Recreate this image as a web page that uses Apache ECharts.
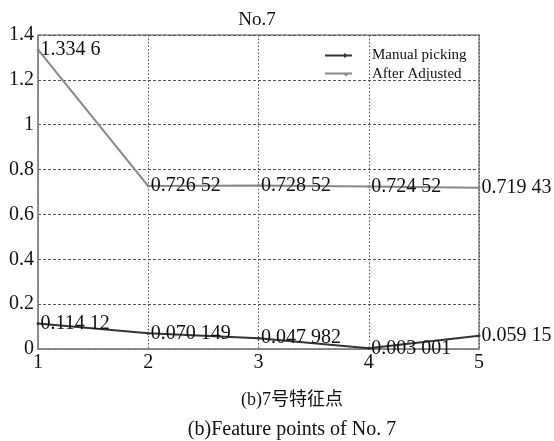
<!DOCTYPE html>
<html><head><meta charset="utf-8">
<script src="https://cdn.jsdelivr.net/npm/echarts@6/dist/echarts.min.js"></script>
<style>html,body{margin:0;padding:0;background:#fff}#c{width:554px;height:441px}</style>
</head><body><div id="c"></div>
<script>
var points = [1, 2, 3, 4, 5];
var manualPicking = [0.11412, 0.070149, 0.047982, 0.003001, 0.05915];
var afterAdjusted = [1.3346, 0.72652, 0.72852, 0.72452, 0.71943];
var yTicks = [0, 0.2, 0.4, 0.6, 0.8, 1, 1.2, 1.4];
var titleText = 'No.7';
var caption1 = '(b)7号特征点';
var caption2 = '(b)Feature points of No. 7';

function grp(v) {
  var s = String(v);
  var p = s.split('.');
  if (p.length < 2) return s;
  var d = p[1].replace(/(\d{3})(?=\d)/g, '$1 ');
  return p[0] + '.' + d;
}
function pairs(arr) { return points.map(function (x, i) { return [x, arr[i]]; }); }

var serif = '"Liberation Serif", "Times New Roman", serif';
var chart = echarts.init(document.getElementById('c'));
chart.setOption({
  animation: false,
  backgroundColor: '#fff',
  textStyle: { fontFamily: serif, color: '#111' },
  title: { text: titleText, left: 252, top: 6, textAlign: 'center',
    textStyle: { fontFamily: serif, fontSize: 19, fontWeight: 'normal', color: '#111' } },
  legend: {
    left: 325, top: 48, orient: 'vertical', padding: 0,
    itemWidth: 27, itemHeight: 10, itemGap: 4,
    textStyle: { fontFamily: serif, fontSize: 15, lineHeight: 15, color: '#111', padding: [0, 0, 0, 15] },
    data: [
      { name: 'Manual picking', icon: 'path://M0,4 L27,4 L27,6 L0,6 Z M19,2.5 L23.5,5 L19,7.5 Z' },
      { name: 'After Adjusted', icon: 'path://M0,4 L27,4 L27,6 L0,6 Z M18,5 L24,5 L21,8 Z' }
    ]
  },
  grid: { left: 38, top: 35, right: 75, bottom: 92, show: true, borderColor: '#888', borderWidth: 1.5 },
  xAxis: {
    type: 'value', min: 1, max: 5, interval: 1,
    axisLine: { show: true, lineStyle: { color: '#888', width: 1.5 } },
    axisTick: { show: false },
    axisLabel: { fontFamily: serif, fontSize: 20, color: '#111', margin: 4 },
    splitLine: { show: true, lineStyle: { color: '#555', type: [1.5, 2], width: 1 } }
  },
  yAxis: {
    type: 'value', min: 0, max: 1.4, interval: 0.2,
    axisLine: { show: true, lineStyle: { color: '#888', width: 1.5 } },
    axisTick: { show: false },
    axisLabel: { fontFamily: serif, fontSize: 20, color: '#111', margin: 4 },
    splitLine: { show: true, lineStyle: { color: '#555', type: [3, 2], width: 1 } }
  },
  series: [
    { name: 'Manual picking', type: 'line', data: pairs(manualPicking),
      symbol: 'circle', symbolSize: 3,
      lineStyle: { color: '#333', width: 2 }, itemStyle: { color: '#333' },
      label: { show: true, position: 'right', distance: 1, fontFamily: serif, fontSize: 20, color: '#111',
        formatter: function (p) { return grp(p.value[1]); } } },
    { name: 'After Adjusted', type: 'line', data: pairs(afterAdjusted),
      symbol: 'circle', symbolSize: 3,
      lineStyle: { color: '#888', width: 2 }, itemStyle: { color: '#888' },
      label: { show: true, position: 'right', distance: 1, fontFamily: serif, fontSize: 20, color: '#111',
        formatter: function (p) { return grp(p.value[1]); } } }
  ],
  graphic: [
    { type: 'text', x: 292, y: 400, style: { text: caption1, font: '18px "Liberation Serif", "Noto Sans CJK SC", serif', fill: '#111', align: 'center', verticalAlign: 'middle' } },
    { type: 'text', x: 292, y: 430, style: { text: caption2, font: '20px "Liberation Serif", serif', fill: '#111', align: 'center', verticalAlign: 'middle' } }
  ]
});
</script></body></html>
